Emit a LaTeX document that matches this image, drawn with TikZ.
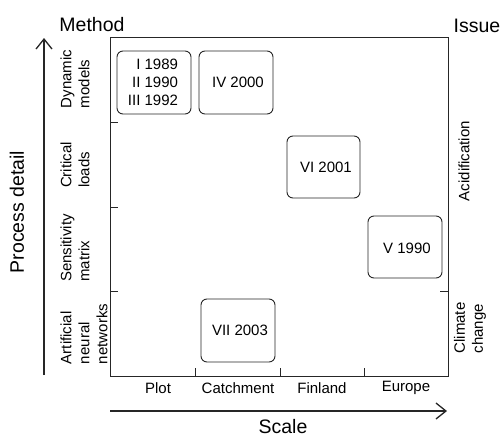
\documentclass[tikz,border=0pt]{standalone}
\usepackage{fontspec}
\setmainfont{Liberation Sans}
\usetikzlibrary{arrows.meta}
\begin{document}
\begin{tikzpicture}[x=1pt,y=-1pt,
  ln/.style={draw=black!85,line width=0.9pt},
  rbox/.style={draw=black!85,line width=0.9pt,rounded corners=6pt},
  small/.style={font=\fontsize{15}{18}\selectfont,text=black},
  big/.style={font=\fontsize{19.5}{22}\selectfont,text=black,inner sep=0pt},
  rowlab/.style={small,rotate=90,align=left,inner sep=0pt},
  boxtxt/.style={small,align=right,inner sep=0pt},
  axarrow/.style={draw=black!85,line width=1.3pt,-{Straight Barb[length=10pt,width=16pt,line width=1.3pt]}}
]
\useasboundingbox (0,0) rectangle (501,439);
% frame
\draw[ln] (110,37) rectangle (448,376);
% ticks
\coordinate (tl1) at (110,122); \coordinate (tl1e) at (118,122);
\coordinate (tl2) at (110,207); \coordinate (tl2e) at (118,207);
\coordinate (tl3) at (110,291); \coordinate (tl3e) at (118,291);
\coordinate (tr3) at (448,291); \coordinate (tr3e) at (440,291);
\coordinate (tb1) at (195,376); \coordinate (tb1e) at (195,368);
\coordinate (tb2) at (280,376); \coordinate (tb2e) at (280,368);
\coordinate (tb3) at (364,376); \coordinate (tb3e) at (364,368);
\draw[ln] (tl1)--(tl1e) (tl2)--(tl2e) (tl3)--(tl3e) (tr3)--(tr3e)
  (tb1)--(tb1e) (tb2)--(tb2e) (tb3)--(tb3e);
% axes arrows
\coordinate (va0) at (44,375); \coordinate (va1) at (44,38);
\coordinate (ha0) at (110,411); \coordinate (ha1) at (447,411);
\draw[axarrow] (va0)--(va1);
\draw[axarrow] (ha0)--(ha1);
% axis titles
\node[big] (method) at (92,25) {Method};
\node[big] (issue) at (477,26) {Issue};
\node[big,rotate=90] (pd) at (17,212) {Process detail};
\node[big] (scale) at (283,427) {Scale};
% row labels
\node[rowlab] (r1) at (75,79) {Dynamic\\models};
\node[rowlab] (r2) at (75,165) {Critical\\loads};
\node[rowlab] (r3) at (75,248) {Sensitivity\\matrix};
\node[rowlab] (r4) at (84,334) {Artificial\\neural\\networks};
% right labels
\node[rowlab] (acid) at (464,161) {Acidification};
\node[rowlab] (clim) at (470,328) {Climate\\change};
% column labels
\node[small] (c1) at (158,388) {Plot};
\node[small] (c2) at (238,388) {Catchment};
\node[small] (c3) at (322,388) {Finland};
\node[small] (c4) at (406,388) {Europe};
% boxes
\draw[rbox] (117,51) rectangle (191,114);
\draw[rbox] (199,51) rectangle (273,114);
\draw[rbox] (287,136) rectangle (360,198);
\draw[rbox] (368,216) rectangle (442,278);
\draw[rbox] (201,299) rectangle (275,362);
\node[boxtxt] (b1) at (153,82) {I 1989\\II 1990\\III 1992};
\node[boxtxt] (b4) at (238,82) {IV 2000};
\node[boxtxt] (b6) at (326,167) {VI 2001};
\node[boxtxt] (b5) at (407,248) {V 1990};
\node[boxtxt] (b7) at (240,330) {VII 2003};
\end{tikzpicture}
\end{document}
